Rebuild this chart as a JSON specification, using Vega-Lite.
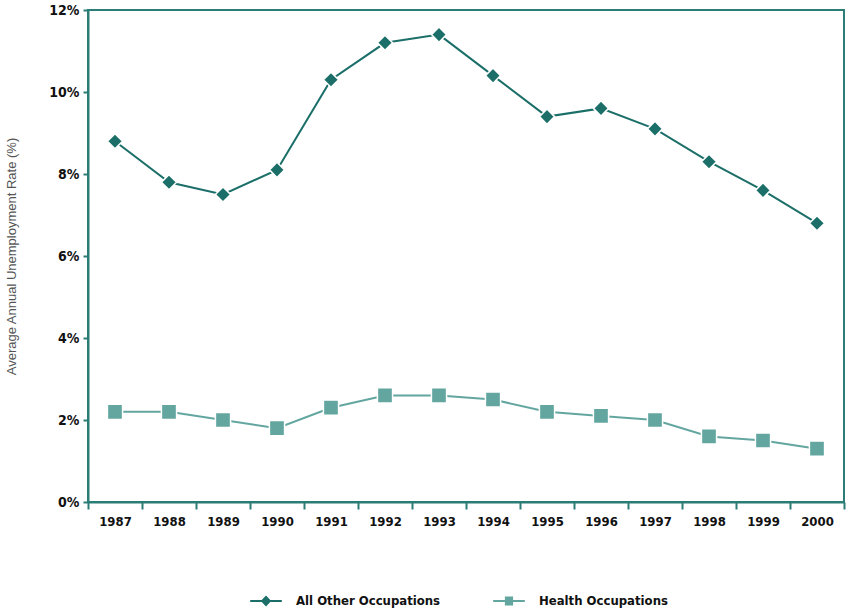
{
  "$schema": "https://vega.github.io/schema/vega-lite/v6.json",
  "width": 756,
  "height": 492,
  "autosize": {"type": "none"},
  "padding": {"left": 88, "top": 10, "right": 2, "bottom": 109},
  "background": "white",
  "config": {
    "view": {"stroke": "#2b7d76", "strokeWidth": 2},
    "font": "DejaVu Sans Condensed"
  },
  "data": {
    "values": [
      {"year": "1987", "series": "All Other Occupations", "rate": 8.8},
      {"year": "1988", "series": "All Other Occupations", "rate": 7.8},
      {"year": "1989", "series": "All Other Occupations", "rate": 7.5},
      {"year": "1990", "series": "All Other Occupations", "rate": 8.1},
      {"year": "1991", "series": "All Other Occupations", "rate": 10.3},
      {"year": "1992", "series": "All Other Occupations", "rate": 11.2},
      {"year": "1993", "series": "All Other Occupations", "rate": 11.4},
      {"year": "1994", "series": "All Other Occupations", "rate": 10.4},
      {"year": "1995", "series": "All Other Occupations", "rate": 9.4},
      {"year": "1996", "series": "All Other Occupations", "rate": 9.6},
      {"year": "1997", "series": "All Other Occupations", "rate": 9.1},
      {"year": "1998", "series": "All Other Occupations", "rate": 8.3},
      {"year": "1999", "series": "All Other Occupations", "rate": 7.6},
      {"year": "2000", "series": "All Other Occupations", "rate": 6.8},
      {"year": "1987", "series": "Health Occupations", "rate": 2.2},
      {"year": "1988", "series": "Health Occupations", "rate": 2.2},
      {"year": "1989", "series": "Health Occupations", "rate": 2.0},
      {"year": "1990", "series": "Health Occupations", "rate": 1.8},
      {"year": "1991", "series": "Health Occupations", "rate": 2.3},
      {"year": "1992", "series": "Health Occupations", "rate": 2.6},
      {"year": "1993", "series": "Health Occupations", "rate": 2.6},
      {"year": "1994", "series": "Health Occupations", "rate": 2.5},
      {"year": "1995", "series": "Health Occupations", "rate": 2.2},
      {"year": "1996", "series": "Health Occupations", "rate": 2.1},
      {"year": "1997", "series": "Health Occupations", "rate": 2.0},
      {"year": "1998", "series": "Health Occupations", "rate": 1.6},
      {"year": "1999", "series": "Health Occupations", "rate": 1.5},
      {"year": "2000", "series": "Health Occupations", "rate": 1.3}
    ]
  },
  "encoding": {
    "x": {
      "field": "year",
      "type": "ordinal",
      "scale": {"paddingInner": 0, "paddingOuter": 0},
      "axis": {
        "title": null,
        "labelAngle": 0,
        "labelFont": "DejaVu Sans Condensed",
        "labelFontSize": 13,
        "labelFontWeight": "bold",
        "labelColor": "#111",
        "labelPadding": 6,
        "domainColor": "#2b7d76",
        "domainWidth": 2,
        "tickColor": "#2b7d76",
        "tickWidth": 2,
        "tickSize": 7,
        "tickBand": "extent"
      }
    },
    "y": {
      "field": "rate",
      "type": "quantitative",
      "scale": {"domain": [0, 12], "nice": false},
      "axis": {
        "values": [0, 2, 4, 6, 8, 10, 12],
        "labelExpr": "datum.value + '%'",
        "grid": false,
        "title": "Average Annual Unemployment Rate (%)",
        "titleFont": "Liberation Sans",
        "titleFontWeight": "normal",
        "titleFontSize": 13,
        "titleColor": "#555",
        "titlePadding": 30,
        "labelFont": "DejaVu Sans Condensed",
        "labelFontSize": 14,
        "labelFontWeight": "bold",
        "labelColor": "#111",
        "labelPadding": 4,
        "domainColor": "#2b7d76",
        "domainWidth": 2,
        "tickColor": "#2b7d76",
        "tickWidth": 2,
        "tickSize": 5
      }
    }
  },
  "layer": [
    {
      "mark": {"type": "line", "strokeWidth": 2},
      "encoding": {
        "color": {
          "field": "series",
          "type": "nominal",
          "scale": {
            "domain": ["All Other Occupations", "Health Occupations"],
            "range": ["#1b6f68", "#63a6a0"]
          },
          "legend": {
            "title": null,
            "orient": "none",
            "legendX": 162,
            "legendY": 575,
            "direction": "horizontal",
            "columnPadding": 52,
            "symbolSize": 1000,
            "symbolStrokeWidth": 0,
            "symbolType": "square",
            "labelFont": "DejaVu Sans Condensed",
            "labelFontSize": 13,
            "labelFontWeight": "bold",
            "labelColor": "#111",
            "labelOffset": 14,
            "encode": {
              "symbols": {
                "update": {
                  "shape": {"signal": "datum.value === 'All Other Occupations' ? 'M-1,-0.07L-0.27,-0.07L0,-0.34L0.27,-0.07L1,-0.07L1,0.07L0.27,0.07L0,0.34L-0.27,0.07L-1,0.07Z' : 'M-1,-0.07L-0.26,-0.07L-0.26,-0.28L0.26,-0.28L0.26,-0.07L1,-0.07L1,0.07L0.26,0.07L0.26,0.28L-0.26,0.28L-0.26,0.07L-1,0.07Z'"},
                  "fill": {"signal": "datum.value === 'All Other Occupations' ? '#1b6f68' : '#63a6a0'"},
                  "fillOpacity": {"value": 1},
                  "strokeWidth": {"value": 0}
                }
              }
            }
          }
        }
      }
    },
    {
      "transform": [{"filter": "datum.series === 'All Other Occupations'"}],
      "mark": {"type": "point", "shape": "diamond", "filled": true, "opacity": 1, "color": "#1b6f68", "stroke": "white", "strokeWidth": 1.5, "size": 230}
    },
    {
      "transform": [{"filter": "datum.series === 'Health Occupations'"}],
      "mark": {"type": "point", "shape": "square", "filled": true, "opacity": 1, "color": "#63a6a0", "stroke": "white", "strokeWidth": 1.5, "size": 230}
    }
  ]
}
